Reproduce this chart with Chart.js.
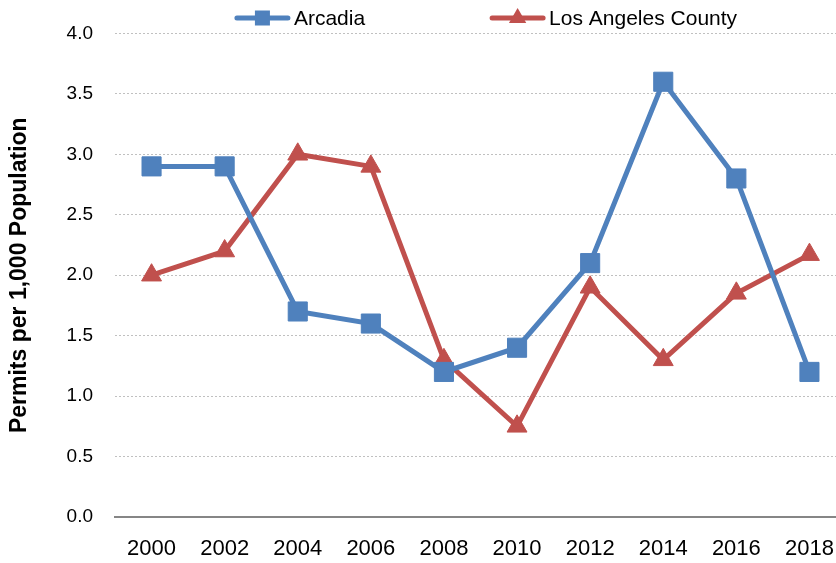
<!DOCTYPE html>
<html>
<head>
<meta charset="utf-8">
<script src="https://cdn.jsdelivr.net/npm/chart.js@4"></script>
<style>
  html, body { margin: 0; padding: 0; background: #fff; overflow: hidden; }
  /* plot area runs a little past the right edge, as in the cropped original */
  #wrap { width: 836px; height: 563px; overflow: hidden; }
</style>
</head>
<body>
<div id="wrap"><canvas id="chart1" width="846" height="563"></canvas></div>
<script>
const years = ['2000', '2002', '2004', '2006', '2008', '2010', '2012', '2014', '2016', '2018'];
const arcadia = [2.9, 2.9, 1.7, 1.6, 1.2, 1.4, 2.1, 3.6, 2.8, 1.2];
const laCounty = [2.0, 2.2, 3.0, 2.9, 1.3, 0.75, 1.9, 1.3, 1.85, 2.17];
const yTicks = [0, 0.5, 1.0, 1.5, 2.0, 2.5, 3.0, 3.5, 4.0];

const blue = '#4F81BD';
const red = '#C0504D';
const sans = "'Liberation Sans', Arial, sans-serif";

// legend drawn by hand: line sample + marker + text, like the Excel one
const lineLegend = {
    id: 'lineLegend',
    afterDraw(chart) {
        const ctx = chart.ctx;
        const area = chart.chartArea;
        ctx.save();
        ctx.font = '21px ' + sans;
        ctx.textBaseline = 'middle';
        const sample = 57, gapText = 3, gapItem = 124;
        const items = chart.data.datasets.map(ds => ({
            ds: ds,
            w: sample + gapText + ctx.measureText(ds.label).width
        }));
        const total = items.reduce((s, it) => s + it.w, 0) + gapItem * (items.length - 1);
        let x = (area.left + area.right) / 2 + 5 - total / 2;
        const y = 18;
        items.forEach(it => {
            const c = it.ds.borderColor;
            ctx.strokeStyle = c;
            ctx.fillStyle = c;
            ctx.lineWidth = 5;
            ctx.lineCap = 'round';
            ctx.beginPath();
            ctx.moveTo(x + 3, y);
            ctx.lineTo(x + sample - 3, y);
            ctx.stroke();
            const cx = x + sample / 2;
            if (it.ds.pointStyle === 'rect') {
                ctx.fillRect(cx - 7.5, y - 7.5, 15, 15);
            } else {
                const r = 10;
                ctx.beginPath();
                ctx.moveTo(cx, y - r);
                ctx.lineTo(cx + r * 0.866, y + r / 2);
                ctx.lineTo(cx - r * 0.866, y + r / 2);
                ctx.closePath();
                ctx.fill();
            }
            ctx.fillStyle = '#000';
            ctx.fillText(it.ds.label, x + sample + gapText, y + 1);
            x += it.w + gapItem;
        });
        ctx.restore();
    }
};

var chart1 = document.getElementById('chart1').getContext('2d');
new Chart(chart1, {
    type: 'line',
    data: {
        labels: years,
        datasets: [{
            label: 'Arcadia',
            data: arcadia,
            borderColor: blue,
            backgroundColor: blue,
            borderWidth: 5,
            pointStyle: 'rect',
            pointRadius: 13.5,
            pointHoverRadius: 13.5,
            pointBorderWidth: 1,
            tension: 0
        }, {
            label: 'Los Angeles County',
            data: laCounty,
            borderColor: red,
            backgroundColor: red,
            borderWidth: 5,
            pointStyle: 'triangle',
            pointRadius: 11.5,
            pointHoverRadius: 11.5,
            pointBorderWidth: 1,
            tension: 0
        }]
    },
    options: {
        responsive: false,
        animation: false,
        devicePixelRatio: 1,
        layout: { autoPadding: false, padding: { top: 32, right: 0, left: 0, bottom: 0 } },
        plugins: {
            legend: { display: false },
            tooltip: { enabled: false }
        },
        scales: {
            x: {
                offset: true,
                grid: { display: false, drawTicks: false },
                border: { display: true, color: '#868686', width: 2 },
                ticks: {
                    color: '#000',
                    padding: 19,
                    maxRotation: 0,
                    autoSkip: false,
                    font: { family: sans, size: 22 }
                },
                afterFit: s => {
                    s.height = 46;
                    s.paddingLeft = 0;
                    s.paddingRight = 0;
                }
            },
            y: {
                min: 0,
                max: 4,
                afterBuildTicks: s => { s.ticks = yTicks.map(v => ({ value: v })); },
                grid: {
                    drawTicks: false,
                    color: c => c.tick && c.tick.value === 0 ? 'rgba(0,0,0,0)' : '#c0c0c0',
                    lineWidth: 1
                },
                border: { display: false, dash: [2, 2] },
                ticks: {
                    color: '#000',
                    padding: 22,
                    font: { family: sans, size: 19 },
                    callback: v => Number(v).toFixed(1)
                },
                title: {
                    display: true,
                    text: 'Permits per 1,000 Population',
                    color: '#000',
                    padding: { top: 6, bottom: 0 },
                    font: { family: sans, size: 23, weight: 'bold' }
                },
                afterFit: s => { s.width = 115; }
            }
        }
    },
    plugins: [lineLegend]
});
</script>
</body>
</html>
